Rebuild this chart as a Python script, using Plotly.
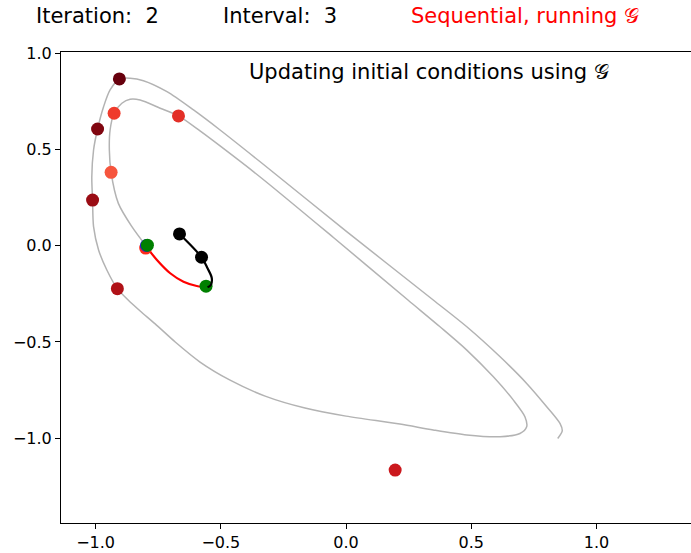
import plotly.graph_objects as go

# Fine-solver trajectory (phase plane), listed as (x, y) samples along the path
traj = [
    (-0.798, -0.002), (-0.855, 0.099), (-0.909, 0.220), (-0.938, 0.381), (-0.945, 0.497),
    (-0.942, 0.601), (-0.926, 0.688), (-0.895, 0.740), (-0.862, 0.761), (-0.822, 0.757),
    (-0.742, 0.714), (-0.669, 0.674), (-0.583, 0.596), (-0.503, 0.518), (-0.343, 0.357),
    (-0.048, 0.040), (0.247, -0.282), (0.375, -0.421), (0.482, -0.542), (0.588, -0.681),
    (0.668, -0.802), (0.714, -0.888), (0.721, -0.940), (0.694, -0.975), (0.615, -0.992),
    (0.482, -0.983), (0.348, -0.957), (0.215, -0.926), (0.000, -0.885), (-0.164, -0.843),
    (-0.323, -0.781), (-0.463, -0.698), (-0.583, -0.604), (-0.682, -0.500), (-0.762, -0.406),
    (-0.822, -0.339), (-0.870, -0.282), (-0.913, -0.223), (-0.955, -0.126), (-0.988, -0.022),
    (-1.008, 0.099), (-1.012, 0.237), (-1.015, 0.358), (-1.008, 0.497), (-0.992, 0.606),
    (-0.968, 0.722), (-0.942, 0.809), (-0.905, 0.866), (-0.862, 0.870), (-0.809, 0.857),
    (-0.715, 0.800), (-0.609, 0.705), (-0.503, 0.601), (-0.343, 0.436), (0.000, 0.076),
    (0.348, -0.282), (0.482, -0.421), (0.615, -0.577), (0.721, -0.715), (0.801, -0.836),
    (0.854, -0.923), (0.863, -0.962), (0.845, -1.001),
]
traj_x = [p[0] for p in traj]
traj_y = [p[1] for p in traj]

# Initial conditions at interval boundaries, coloured by age
ic_x = [-0.905, -0.992, -1.012, -0.913, 0.196, -0.669, -0.926, -0.938]
ic_y = [0.866, 0.606, 0.237, -0.223, -1.165, 0.674, 0.688, 0.381]
ic_colors = ["#67000d", "#800610", "#9a0c14", "#b01117", "#cb181d", "#e32f27", "#ef3b2c", "#f6553d"]

# Sequential coarse propagation (black)
seq_x = [-0.665, -0.577, -0.553, -0.536, -0.540, -0.553]
seq_y = [0.061, -0.060, -0.117, -0.169, -0.204, -0.216]
seq_pts_x = [-0.665, -0.577]
seq_pts_y = [0.061, -0.060]

# Coarse solver G over the current interval (red)
g_x = [-0.549, -0.596, -0.649, -0.702, -0.755, -0.789]
g_y = [-0.216, -0.209, -0.187, -0.143, -0.074, -0.019]

# Interval start / end markers
start_red = (-0.800, -0.012)
start_blue = (-0.797, 0.001)
green_x = [-0.793, -0.559]
green_y = [0.003, -0.210]

fig = go.Figure()
fig.add_trace(go.Scatter(x=traj_x, y=traj_y, mode="lines",
                         line=dict(color="#b3b3b3", width=1.5, shape="spline", smoothing=0.8),
                         hoverinfo="skip"))
fig.add_trace(go.Scatter(x=ic_x, y=ic_y, mode="markers",
                         marker=dict(color=ic_colors, size=13, line=dict(width=0))))
fig.add_trace(go.Scatter(x=g_x, y=g_y, mode="lines",
                         line=dict(color="#ff0000", width=2.2, shape="spline")))
fig.add_trace(go.Scatter(x=[start_red[0]], y=[start_red[1]], mode="markers",
                         marker=dict(color="#ff2a1a", size=13, line=dict(width=0))))
fig.add_trace(go.Scatter(x=[start_blue[0]], y=[start_blue[1]], mode="markers",
                         marker=dict(color="#1f1fcc", size=13, line=dict(width=0))))
fig.add_trace(go.Scatter(x=green_x, y=green_y, mode="markers",
                         marker=dict(color="#008000", size=13, line=dict(width=0))))
fig.add_trace(go.Scatter(x=seq_x, y=seq_y, mode="lines",
                         line=dict(color="black", width=2.2, shape="spline")))
fig.add_trace(go.Scatter(x=seq_pts_x, y=seq_pts_y, mode="markers",
                         marker=dict(color="black", size=13, line=dict(width=0))))

axis_common = dict(showgrid=False, zeroline=False, showline=True, linecolor="black",
                   linewidth=1.1, ticks="outside", ticklen=5, tickwidth=1.1,
                   tickcolor="black",
                   tickfont=dict(family="DejaVu Sans", size=16, color="black"))

fig.update_layout(
    width=691, height=553,
    margin=dict(l=61, r=0, t=52, b=30),
    paper_bgcolor="white", plot_bgcolor="white",
    showlegend=False,
    xaxis=dict(range=[-1.138, 1.377], tickvals=[-1.0, -0.5, 0.0, 0.5, 1.0],
               ticktext=["−1.0", "−0.5", "0.0", "0.5", "1.0"], mirror=True, **axis_common),
    yaxis=dict(range=[-1.44, 1.006], tickvals=[-1.0, -0.5, 0.0, 0.5, 1.0],
               ticktext=["−1.0", "−0.5", "0.0", "0.5", "1.0"], **axis_common),
    font=dict(family="DejaVu Sans", color="black"),
)

G = "\U0001D4A2"
title_font = dict(family="DejaVu Sans", size=21, color="black")
fig.add_annotation(text="Iteration: \u00a02", xref="paper", yref="paper", x=-0.0429, y=1.0764,
                   xanchor="left", yanchor="middle", showarrow=False, font=title_font)
fig.add_annotation(text="Interval: \u00a03", xref="paper", yref="paper", x=0.254, y=1.0764,
                   xanchor="left", yanchor="middle", showarrow=False, font=title_font)
fig.add_annotation(text="Sequential, running " + G, xref="paper", yref="paper", x=0.5524, y=1.0764,
                   xanchor="left", yanchor="middle", showarrow=False,
                   font=dict(family="DejaVu Sans", size=21, color="#ff0000"))
fig.add_annotation(text="Updating initial conditions using " + G, xref="paper", yref="paper",
                   x=0.2952, y=0.9575, xanchor="left", yanchor="middle", showarrow=False,
                   font=title_font)

fig.write_html("out.html")
